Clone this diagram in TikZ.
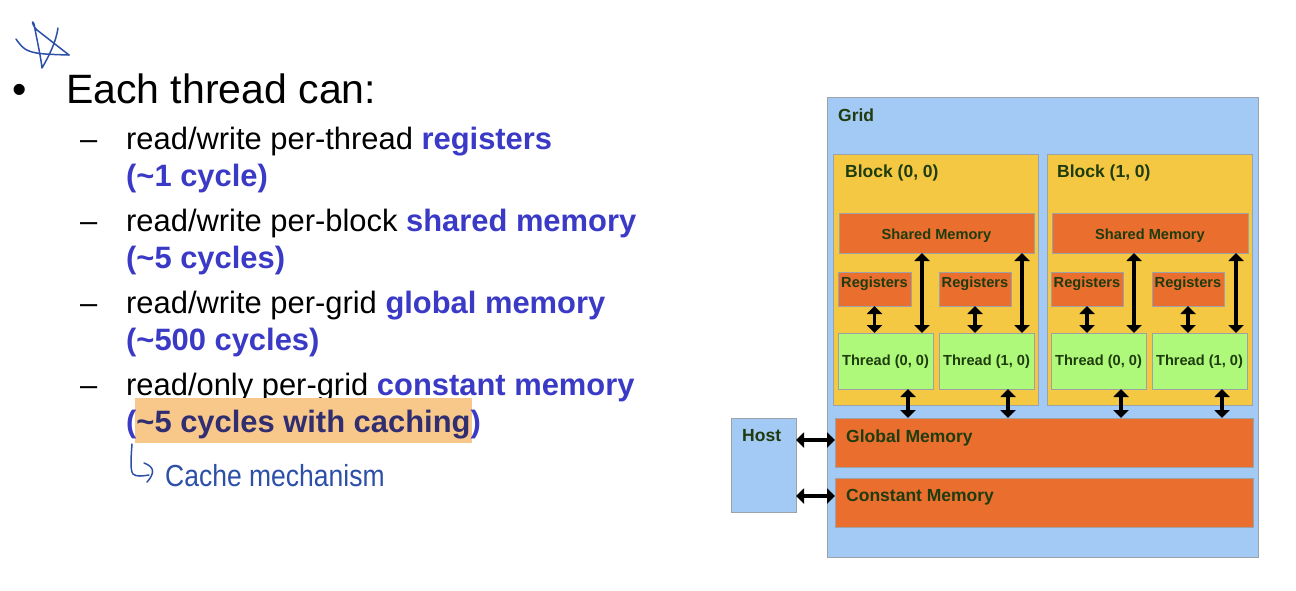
\documentclass[tikz,border=0pt]{standalone}
\usepackage{fontspec}
\setmainfont{Liberation Sans}
\usetikzlibrary{arrows.meta}

\definecolor{gridblue}{HTML}{A3C9F5}
\definecolor{blockyel}{HTML}{F5C843}
\definecolor{memorg}{HTML}{EA6E2E}
\definecolor{thrgrn}{HTML}{AEF97A}
\definecolor{lbl}{HTML}{1E3C0E}
\definecolor{edge}{HTML}{9CA3A8}
\definecolor{kw}{HTML}{3A3AC6}
\definecolor{hl}{HTML}{F7C88A}
\definecolor{hlink}{HTML}{302D70}
\definecolor{ink}{HTML}{2C50A8}

% a box given by its corners (x1,y1) and (x2,y2)
\newcommand\cudabox[6]{%
  \node[box, fill=#6, minimum width=#4-#2, minimum height=#5-#3] (#1) at (#2,#3) {};}

\tikzset{
  box/.style={draw=edge, line width=0.9pt, inner sep=0pt, outer sep=0pt, anchor=north west},
  big/.style={text=lbl, inner sep=0pt, font=\fontsize{17.5}{20}\selectfont\bfseries, anchor=base west},
  small/.style={text=lbl, inner sep=0pt, font=\fontsize{14.6}{17}\selectfont\bfseries, anchor=base},
  dbl/.style={{Triangle[width=15pt,length=8pt]}-{Triangle[width=15pt,length=8pt]}, line width=3.2pt, black},
  bul/.style={inner sep=0pt, anchor=base west, font=\fontsize{30.9}{36}\selectfont},
  pen/.style={ink, line width=1.5pt, line cap=round, line join=round},
}

\begin{document}
\begin{tikzpicture}[x=1pt, y=-1pt]
\useasboundingbox[fill=white] (0,0) rectangle (1296,590);

% ---------- bullet list ----------
\node[inner sep=0pt, anchor=base west, font=\fontsize{41}{48}\selectfont] (dot) at (12,103) {•};
\node[inner sep=0pt, anchor=base west, font=\fontsize{41}{48}\selectfont] (head) at (66,103) {Each thread can:};

\node[bul] (d1) at (80,149) {–};
\node[bul] (l1) at (126,149) {read/write per-thread {\bfseries\color{kw}registers}};
\node[bul] (l2) at (126,186) {\bfseries\color{kw}(\textasciitilde 1 cycle)};
\node[bul] (d2) at (80,231) {–};
\node[bul] (l3) at (126,231) {read/write per-block {\bfseries\color{kw}shared memory}};
\node[bul] (l4) at (126,268) {\bfseries\color{kw}(\textasciitilde 5 cycles)};
\node[bul] (d3) at (80,313) {–};
\node[bul] (l5) at (126,313) {read/write per-grid {\bfseries\color{kw}global memory}};
\node[bul] (l6) at (126,350) {\bfseries\color{kw}(\textasciitilde 500 cycles)};
\node[bul] (d4) at (80,395) {–};
\node[bul] (l7) at (126,395) {read/only per-grid {\bfseries\color{kw}constant memory}};
\fill[hl] (135,398) rectangle (472,443);
\node[bul] (l8) at (126,432) {\bfseries\color{kw}({\color{hlink}\textasciitilde 5 cycles with caching})};

% ---------- handwritten notes ----------
% star
\draw[pen] plot[smooth, tension=0.6] coordinates {(16,39) (25,49) (40,53.5) (69,55)};
\draw[pen] (69,55) -- (37,30) .. controls (31,24) and (32,19) .. (34,24)
  .. controls (37,40) and (41,58) .. (42,68)
  .. controls (49,56) and (56,42) .. (58,28);
% hook arrow
\draw[pen] (132,444) .. controls (131,458) and (130,470) .. (133,474)
  .. controls (136,477) and (143,476) .. (149,475);
\draw[pen] (144,463) .. controls (152,466) and (157,471) .. (147,482);
\node[inner sep=0pt, anchor=base west, text=ink, font=\fontsize{26.5}{30}\selectfont,
      yscale=1.15, transform shape] (note) at (165,486) {Cache mechanism};

% ---------- memory hierarchy ----------
\cudabox{grid}{827}{97}{1258}{557}{gridblue}
\node[big] (gridl) at (838,121) {Grid};

\cudabox{blk0}{833}{154}{1038}{405}{blockyel}
\cudabox{blk1}{1047}{154}{1252}{405}{blockyel}
\node[big] (blk0l) at (845,177) {Block (0, 0)};
\node[big] (blk1l) at (1057,177) {Block (1, 0)};

\cudabox{sh0}{839}{213}{1034}{253}{memorg}
\cudabox{sh1}{1052}{213}{1248}{253}{memorg}
\node[small] (sh0l) at (936.5,239) {Shared Memory};
\node[small] (sh1l) at (1150,239) {Shared Memory};

\cudabox{r00}{838}{272}{911}{306}{memorg}
\cudabox{r01}{939}{272}{1011}{306}{memorg}
\cudabox{r10}{1051}{272}{1123}{306}{memorg}
\cudabox{r11}{1152}{272}{1224}{306}{memorg}
\node[small] (r00l) at (874.5,287) {Registers};
\node[small] (r01l) at (975,287) {Registers};
\node[small] (r10l) at (1087,287) {Registers};
\node[small] (r11l) at (1188,287) {Registers};

\cudabox{t00}{838}{333}{933}{389}{thrgrn}
\cudabox{t01}{939}{333}{1034}{389}{thrgrn}
\cudabox{t10}{1051}{333}{1146}{389}{thrgrn}
\cudabox{t11}{1152}{333}{1247}{389}{thrgrn}
\node[small] (t00l) at (885.5,365) {Thread (0, 0)};
\node[small] (t01l) at (986.5,365) {Thread (1, 0)};
\node[small] (t10l) at (1098.5,365) {Thread (0, 0)};
\node[small] (t11l) at (1199.5,365) {Thread (1, 0)};

\cudabox{glob}{835}{418}{1253}{467}{memorg}
\cudabox{const}{835}{478}{1253}{527}{memorg}
\node[big] (globl) at (846,442) {Global Memory};
\node[big] (constl) at (846,501) {Constant Memory};

\cudabox{host}{731}{418}{796}{512}{gridblue}
\node[big] (hostl) at (742,441) {Host};

% arrow columns
\coordinate (s00) at (922,0);
\coordinate (s01) at (1022,0);
\coordinate (s10) at (1134,0);
\coordinate (s11) at (1236,0);
\coordinate (g00) at (908,0);
\coordinate (g01) at (1008,0);
\coordinate (g10) at (1121,0);
\coordinate (g11) at (1222,0);
\coordinate (hg) at (0,440);
\coordinate (hc) at (0,496);

% registers <-> threads
\draw[dbl] (r00.south) -- (r00.south |- t00.north);
\draw[dbl] (r01.south) -- (r01.south |- t01.north);
\draw[dbl] (r10.south) -- (r10.south |- t10.north);
\draw[dbl] (r11.south) -- (r11.south |- t11.north);

% shared memory <-> threads
\draw[dbl] (s00 |- sh0.south) -- (s00 |- t00.north);
\draw[dbl] (s01 |- sh0.south) -- (s01 |- t01.north);
\draw[dbl] (s10 |- sh1.south) -- (s10 |- t10.north);
\draw[dbl] (s11 |- sh1.south) -- (s11 |- t11.north);

% threads <-> global memory
\draw[dbl] (g00 |- t00.south) -- (g00 |- glob.north);
\draw[dbl] (g01 |- t01.south) -- (g01 |- glob.north);
\draw[dbl] (g10 |- t10.south) -- (g10 |- glob.north);
\draw[dbl] (g11 |- t11.south) -- (g11 |- glob.north);

% host <-> device memories
\draw[dbl] (host.east |- hg) -- (glob.west |- hg);
\draw[dbl] (host.east |- hc) -- (const.west |- hc);
\end{tikzpicture}
\end{document}
